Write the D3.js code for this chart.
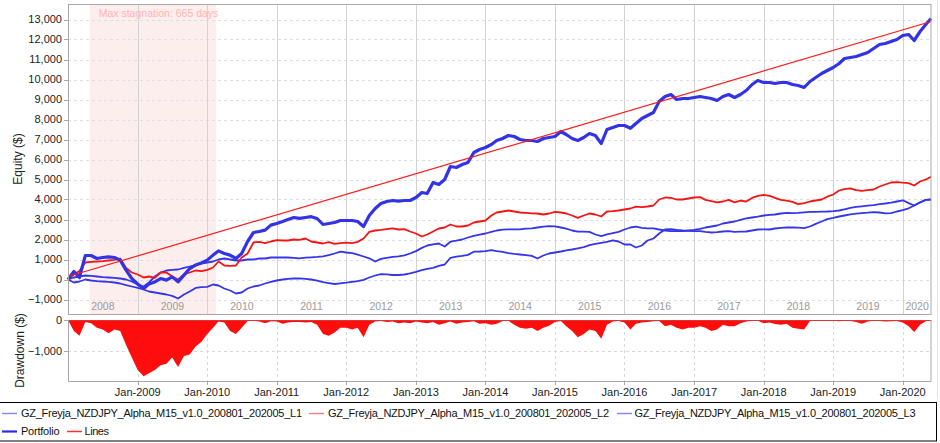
<!DOCTYPE html>
<html><head><meta charset="utf-8">
<script src="https://cdn.jsdelivr.net/npm/d3@7/dist/d3.min.js"></script>
<style>
body{margin:0;background:#fff;}
svg{display:block;font-family:"Liberation Sans",Arial,sans-serif;}
</style></head><body>
<svg id="c" width="940" height="443"></svg>
<script>
// ---------------- DATA ----------------
const startMonth = "2008-01-01";   // first monthly sample
const endDate = "2020-05-29";      // last sample (end of test)
const domainStart = "2008-01-01", domainEnd = "2020-05-31";

const portfolio = [
  0, 400, 100, 1200, 1200, 1050, 1100, 1130, 1100, 970, 470, 50,
  -230, -450, -230, -120, 50, -30, 130, -120, 220, 550, 720, 830,
  970, 1220, 1430, 1300, 1220, 1050, 1300, 1900, 2350, 2400, 2470, 2720,
  2800, 2900, 3000, 3100, 3060, 3100, 3140, 3050, 2750, 2800, 2850, 2950,
  2950, 2950, 2900, 2650, 3200, 3550, 3800, 3900, 3950, 3920, 3950, 3950,
  4100, 4350, 4300, 4850, 4750, 5000, 5650, 5600, 5750, 5850, 6350, 6500,
  6600, 6750, 6950, 7050, 7200, 7150, 7000, 6950, 6950, 6900, 7050, 7100,
  7150, 7400, 7250, 7050, 6950, 7100, 7300, 7200, 6800, 7500, 7600, 7700,
  7700, 7560, 7800, 8050, 8200, 8350, 8900, 9150, 9250, 9000, 9050, 9050,
  9100, 9150, 9100, 9050, 8950, 9150, 9250, 9100, 9250, 9450, 9750, 9950,
  9850, 9850, 9800, 9850, 9850, 9750, 9700, 9600, 9900, 10100, 10300, 10450,
  10600, 10800, 11050, 11100, 11150, 11250, 11350, 11550, 11750, 11800, 11900, 12000,
  12200, 12250, 11950, 12400, 12750, 13050
];
const line1 = [
  0, 100, 150, 200, 180, 150, 120, 100, 80, 50, 0, -100,
  -250, -350, -150, 150, 350, 450, 480, 500, 580, 650, 720, 800,
  850, 900, 1000, 1050, 1000, 950, 950, 1000, 1000, 1050, 1050, 1100,
  1100, 1100, 1100, 1080, 1060, 1090, 1110, 1130, 1160, 1220, 1300, 1390,
  1350, 1320, 1240, 1150, 1060, 900, 1030, 1080, 1130, 1160, 1210, 1300,
  1420, 1580, 1700, 1760, 1800, 1650, 1890, 1940, 2000, 2100, 2180, 2240,
  2300, 2380, 2450, 2490, 2510, 2510, 2510, 2540, 2560, 2600, 2640, 2670,
  2660, 2600, 2540, 2450, 2390, 2390, 2380, 2250, 2170, 2260, 2320, 2380,
  2500, 2600, 2640, 2580, 2560, 2560, 2500, 2450, 2420, 2430, 2420, 2450,
  2480, 2530, 2600, 2650, 2700, 2800, 2850, 2900, 2980, 3060, 3100, 3140,
  3200, 3230, 3250, 3300, 3330, 3320, 3330, 3360, 3380, 3380, 3390, 3400,
  3420, 3450, 3510, 3580, 3630, 3660, 3690, 3720, 3770, 3800, 3840, 3900,
  3960, 3820, 3700, 3850, 3980, 3980
];
const line2 = [
  0, 250, 420, 850, 880, 900, 920, 950, 980, 1050, 580, 350,
  250, 100, 150, 80, 350, 350, 150, 0, 250, 350, 450, 420,
  480, 600, 900, 700, 680, 700, 1100, 1300, 1850, 1880, 1820, 1900,
  1970, 1950, 1950, 2000, 1980, 2050, 1900, 1850, 1800, 1870, 1780, 1820,
  1840, 1820, 1880, 2050, 2380, 2450, 2480, 2520, 2560, 2500, 2520, 2400,
  2300, 2150, 2250, 2400, 2550, 2600, 2750, 2650, 2650, 2700, 2850, 2900,
  2950, 3200, 3350, 3400, 3450, 3400, 3350, 3330, 3310, 3300, 3250, 3300,
  3380, 3350, 3300, 3200, 3080, 3200, 3300, 3250, 3150, 3400, 3420, 3450,
  3500, 3550, 3640, 3620, 3650, 3700, 4000, 4100, 4080, 4000, 4000, 4050,
  4100, 4120, 3980, 3920, 3860, 3900, 3980, 3860, 3940, 3900, 4080, 4180,
  4230, 4180, 4080, 3980, 3940, 3880, 3770, 3820, 3900, 3950, 4000, 4140,
  4250, 4450, 4520, 4560, 4470, 4430, 4470, 4500, 4650, 4750, 4850, 4870,
  4840, 4820, 4700, 4900, 5000, 5140
];
const line3 = [
  0, -150, -100, 0, -50, -80, -100, -120, -150, -200, -280, -350,
  -420, -500, -600, -650, -700, -750, -820, -950, -750, -600, -420, -380,
  -370, -250, -300, -450, -550, -700, -650, -450, -350, -300, -200, -120,
  -50, 0, 30, 50, 60, 30, 0, -60, -130, -180, -225, -190,
  -160, -120, -80, -20, 100, 200, 270, 260, 225, 225, 250, 310,
  380, 470, 530, 580, 680, 750, 1080, 1140, 1180, 1230, 1390, 1400,
  1420, 1470, 1420, 1380, 1320, 1280, 1250, 1220, 1180, 1050, 1200, 1300,
  1350, 1400, 1460, 1500, 1560, 1620, 1720, 1780, 1830, 1880, 1960, 1900,
  1750, 1750, 1600, 1700, 1950, 2050, 2300, 2500, 2520, 2480, 2450, 2430,
  2420, 2420, 2380, 2350, 2370, 2400, 2420, 2380, 2390, 2400, 2450, 2500,
  2510, 2500, 2550, 2580, 2600, 2600, 2590, 2570, 2650, 2780, 2900, 3020,
  3080, 3150, 3200, 3260, 3290, 3320, 3340, 3370, 3350, 3310, 3320, 3400,
  3470, 3560, 3700, 3860, 3980, 4020
];
const drawdown = [
  0, -350, -500, -60, -100, -250, -300, -420, -300, -350, -800, -1200,
  -1600, -1800, -1700, -1600, -1450, -1400, -1200, -1500, -1150, -1100, -850, -700,
  -450, -250, -50, -80, -350, -450, -250, -30, -20, -50, -100, -40,
  -50, -120, -80, -60, -60, -80, -60, -150, -450, -500, -400, -250,
  -250, -300, -250, -550, -150, -50, -30, -60, -50, -100, -80, -100,
  -50, -80, -100, -60, -150, -100, -50, -120, -80, -60, -40, -120,
  -100, -150, -120, -30, -20, -150, -250, -280, -250, -350, -250, -180,
  -60, -30, -200, -350, -550, -450, -300, -350, -600, -150, -50, -30,
  -80, -300, -120, -80, -60, -40, -30, -200, -150, -250, -300, -250,
  -250, -200, -250, -350, -300, -150, -200, -200, -100, -50, -30, -20,
  -100, -80, -130, -150, -120, -250, -280, -300, -30, -20, -20, -30,
  -20, -40, -20, -30, -60, -120, -50, -20, -30, -50, -40, -30,
  -80, -200, -380, -150, -40, 0
];
const trendValues = [150, 12900];           // "Lines" straight line, start and end
const equityTicks = [-1000, 0, 1000, 2000, 3000, 4000, 5000, 6000, 7000, 8000, 9000, 10000, 11000, 12000, 13000];
const drawdownTicks = [-1000, 0];
const yearLabels = [2008, 2009, 2010, 2011, 2012, 2013, 2014, 2015, 2016, 2017, 2018, 2019, 2020];
const tickYears = [2009, 2010, 2011, 2012, 2013, 2014, 2015, 2016, 2017, 2018, 2019, 2020];
const stagnationRange = ["2008-04-24", "2010-02-17"];
const stagnationLabel = "Max stagnation: 665 days";
const legendRow1 = ["GZ_Freyja_NZDJPY_Alpha_M15_v1.0_200801_202005_L1",
                    "GZ_Freyja_NZDJPY_Alpha_M15_v1.0_200801_202005_L2",
                    "GZ_Freyja_NZDJPY_Alpha_M15_v1.0_200801_202005_L3"];
const legendRow2 = ["Portfolio", "Lines"];

// ---------------- DRAWING ----------------
const parse = d3.timeParse("%Y-%m-%d");
const fmt = d3.format(",");
const dates = d3.range(portfolio.length - 1).map(i => d3.timeMonth.offset(parse(startMonth), i)).concat([parse(endDate)]);

const L = 68, R = 931.5, T = 4, B = 314, DT = 320, DB = 381;
const x = d3.scaleTime().domain([parse(domainStart), parse(domainEnd)]).range([L, R]);
const y = d3.scaleLinear().domain([-1725, 13775]).range([B, T]);
const yd = d3.scaleLinear().domain([-1950, 0]).range([DB, DT]);

const svg = d3.select("#c");
svg.append("rect").attr("width", 940).attr("height", 443).attr("fill", "#fff");

// faint outer panel line on right
svg.append("line").attr("x1", 937.5).attr("x2", 937.5).attr("y1", 0).attr("y2", 398)
  .attr("stroke", "#e2e2e2");

// stagnation band
const s0 = x(parse(stagnationRange[0])), s1 = x(parse(stagnationRange[1]));
svg.append("rect").attr("x", s0).attr("y", T).attr("width", s1 - s0).attr("height", B - T)
  .attr("fill", "#fdeeee");
svg.append("text").attr("x", s0 + 9).attr("y", 16.5).attr("font-size", 10.5)
  .attr("fill", "#ffb4b4").text(stagnationLabel);

// main grid
const gMain = svg.append("g");
gMain.selectAll(".hg").data(equityTicks).join("line")
  .attr("x1", L).attr("x2", R).attr("y1", d => Math.round(y(d)) + 0.5).attr("y2", d => Math.round(y(d)) + 0.5)
  .attr("stroke", "#dedede").attr("stroke-dasharray", "3,3");
gMain.selectAll(".vg").data(tickYears).join("line")
  .attr("x1", d => Math.round(x(new Date(d, 0, 1))) + 0.5).attr("x2", d => Math.round(x(new Date(d, 0, 1))) + 0.5)
  .attr("y1", T).attr("y2", B).attr("stroke", "#d2d2d2");

// year labels inside plot
gMain.selectAll(".yl").data(yearLabels).join("text")
  .attr("x", d => {
    const a = Math.max(x(new Date(d, 0, 1)), L), b = Math.min(x(new Date(d + 1, 0, 1)), R);
    return (a + b) / 2;
  })
  .attr("y", 309.5).attr("text-anchor", "middle").attr("font-size", 10.5).attr("fill", "#9a9a9a")
  .text(d => d);

// series
const mk = arr => arr.map((v, i) => ({ d: dates[i], v }));
const line = d3.line().x(p => x(p.d)).y(p => y(p.v));
const plot = svg.append("g");
plot.append("path").datum(mk(line1)).attr("d", line).attr("fill", "none")
  .attr("stroke", "#3535ea").attr("stroke-width", 1.8).attr("stroke-linejoin", "round");
plot.append("path").datum(mk(line3)).attr("d", line).attr("fill", "none")
  .attr("stroke", "#3535ea").attr("stroke-width", 1.8).attr("stroke-linejoin", "round");
plot.append("path").datum(mk(line2)).attr("d", line).attr("fill", "none")
  .attr("stroke", "#f51414").attr("stroke-width", 1.8).attr("stroke-linejoin", "round");
plot.append("path").datum(mk(portfolio)).attr("d", line).attr("fill", "none")
  .attr("stroke", "#3333e6").attr("stroke-width", 3.2).attr("stroke-linejoin", "round");
plot.append("path").datum([{ d: dates[0], v: trendValues[0] }, { d: dates[dates.length - 1], v: trendValues[1] }])
  .attr("d", line).attr("fill", "none").attr("stroke", "#ff1a1a").attr("stroke-width", 1.2);

// main frame
svg.append("rect").attr("x", L + 0.5).attr("y", T + 0.5).attr("width", R - L - 1).attr("height", B - T)
  .attr("fill", "none").attr("stroke", "#a8a8a8");

// y axis ticks main
svg.selectAll(".yt").data(equityTicks).join("line")
  .attr("x1", L - 4).attr("x2", L).attr("y1", d => Math.round(y(d)) + 0.5).attr("y2", d => Math.round(y(d)) + 0.5)
  .attr("stroke", "#a8a8a8");
svg.selectAll(".ytl").data(equityTicks).join("text")
  .attr("x", L - 6).attr("y", d => y(d)).attr("dy", "0.36em").attr("text-anchor", "end")
  .attr("font-size", 11).attr("fill", "#222").text(d => fmt(d));
svg.append("text").attr("transform", `translate(21.5,${(T + B) / 2}) rotate(-90)`)
  .attr("text-anchor", "middle").attr("font-size", 12).attr("fill", "#222").text("Equity ($)");

// drawdown panel
const gD = svg.append("g");
gD.selectAll(".dh").data(drawdownTicks).join("line")
  .attr("x1", L).attr("x2", R).attr("y1", d => Math.round(yd(d)) + 0.5).attr("y2", d => Math.round(yd(d)) + 0.5)
  .attr("stroke", "#d8d8d8").attr("stroke-dasharray", "3,3");
gD.selectAll(".dv").data(tickYears).join("line")
  .attr("x1", d => Math.round(x(new Date(d, 0, 1))) + 0.5).attr("x2", d => Math.round(x(new Date(d, 0, 1))) + 0.5)
  .attr("y1", DT).attr("y2", DB).attr("stroke", "#d8d8d8").attr("stroke-dasharray", "3,3");
const area = d3.area().x(p => x(p.d)).y0(yd(0)).y1(p => yd(p.v));
gD.append("path").datum(mk(drawdown)).attr("d", area).attr("fill", "#ff0d0d");
gD.append("line").attr("x1", L).attr("x2", R).attr("y1", DT + 0.5).attr("y2", DT + 0.5)
  .attr("stroke", "#d33").attr("stroke-width", 1);
// drawdown frame (left, bottom, right)
gD.append("path").attr("d", `M${L + 0.5},${DT}V${DB + 0.5}H${R - 0.5}V${DT}`)
  .attr("fill", "none").attr("stroke", "#a8a8a8");
gD.selectAll(".dt").data(drawdownTicks).join("line")
  .attr("x1", L - 4).attr("x2", L).attr("y1", d => Math.round(yd(d)) + 0.5).attr("y2", d => Math.round(yd(d)) + 0.5)
  .attr("stroke", "#a8a8a8");
gD.selectAll(".dtl").data(drawdownTicks).join("text")
  .attr("x", L - 6).attr("y", d => yd(d)).attr("dy", "0.36em").attr("text-anchor", "end")
  .attr("font-size", 11).attr("fill", "#222").text(d => fmt(d));
svg.append("text").attr("transform", `translate(23.5,${(DT + DB) / 2}) rotate(-90)`)
  .attr("text-anchor", "middle").attr("font-size", 12).attr("fill", "#222").text("Drawdown ($)");

// x axis
const xt = d3.timeFormat("%b-%Y");
svg.selectAll(".xtk").data(tickYears).join("line")
  .attr("x1", d => Math.round(x(new Date(d, 0, 1))) + 0.5).attr("x2", d => Math.round(x(new Date(d, 0, 1))) + 0.5)
  .attr("y1", DB).attr("y2", DB + 4).attr("stroke", "#a8a8a8");
svg.selectAll(".xtl").data(tickYears).join("text")
  .attr("x", d => x(new Date(d, 0, 1))).attr("y", 396).attr("text-anchor", "middle")
  .attr("font-size", 11).attr("fill", "#222").text(d => xt(new Date(d, 0, 1)));

// legend
svg.append("rect").attr("x", -1).attr("y", 402.5).attr("width", 937.5).attr("height", 38.5)
  .attr("fill", "none").attr("stroke", "#000");
const leg1 = [
  { x0: 2, tx: 21, color: "#8a8aff", w: 1.5 },
  { x0: 309, tx: 328, color: "#ff8080", w: 1.5 },
  { x0: 617, tx: 634.5, color: "#8a8aff", w: 1.5 }
];
legendRow1.forEach((name, i) => {
  const o = leg1[i];
  svg.append("line").attr("x1", o.x0).attr("x2", o.x0 + 15).attr("y1", 413.5).attr("y2", 413.5)
    .attr("stroke", o.color).attr("stroke-width", o.w);
  svg.append("text").attr("x", o.tx).attr("y", 413.5).attr("dy", "0.35em").attr("font-size", 11)
    .attr("fill", "#111").attr("textLength", 281).attr("lengthAdjust", "spacing").text(name);
});
const leg2 = [
  { x0: 2, tx: 21, color: "#2a2ae6", w: 2.2, len: 38.5 },
  { x0: 67, tx: 84.5, color: "#ff3030", w: 1.5, len: 24.5 }
];
legendRow2.forEach((name, i) => {
  const o = leg2[i];
  svg.append("line").attr("x1", o.x0).attr("x2", o.x0 + 15).attr("y1", 431.5).attr("y2", 431.5)
    .attr("stroke", o.color).attr("stroke-width", o.w);
  svg.append("text").attr("x", o.tx).attr("y", 431.5).attr("dy", "0.35em").attr("font-size", 11)
    .attr("fill", "#111").attr("textLength", o.len).attr("lengthAdjust", "spacing").text(name);
});
</script>
</body></html>
